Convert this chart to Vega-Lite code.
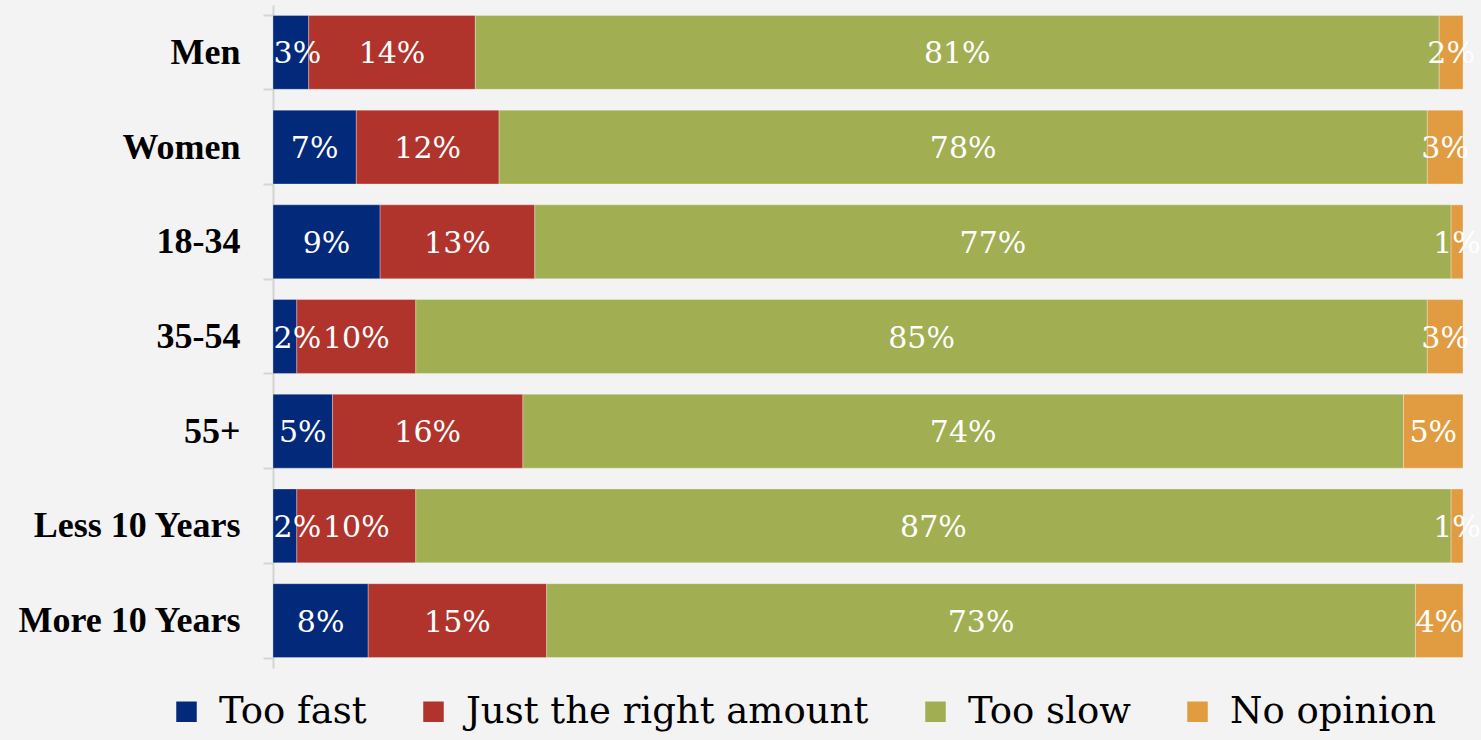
{
  "$schema": "https://vega.github.io/schema/vega-lite/v6.json",
  "autosize": "none",
  "width": 1190,
  "height": 663,
  "padding": {"left": 273, "top": 5, "right": 18, "bottom": 72},
  "background": "#f3f3f3",
  "config": {"view": {"stroke": null}},
  "data": {"values": [
    {"group": "Men", "answer": "Too fast", "pct": 3},
    {"group": "Men", "answer": "Just the right amount", "pct": 14},
    {"group": "Men", "answer": "Too slow", "pct": 81},
    {"group": "Men", "answer": "No opinion", "pct": 2},
    {"group": "Women", "answer": "Too fast", "pct": 7},
    {"group": "Women", "answer": "Just the right amount", "pct": 12},
    {"group": "Women", "answer": "Too slow", "pct": 78},
    {"group": "Women", "answer": "No opinion", "pct": 3},
    {"group": "18-34", "answer": "Too fast", "pct": 9},
    {"group": "18-34", "answer": "Just the right amount", "pct": 13},
    {"group": "18-34", "answer": "Too slow", "pct": 77},
    {"group": "18-34", "answer": "No opinion", "pct": 1},
    {"group": "35-54", "answer": "Too fast", "pct": 2},
    {"group": "35-54", "answer": "Just the right amount", "pct": 10},
    {"group": "35-54", "answer": "Too slow", "pct": 85},
    {"group": "35-54", "answer": "No opinion", "pct": 3},
    {"group": "55+", "answer": "Too fast", "pct": 5},
    {"group": "55+", "answer": "Just the right amount", "pct": 16},
    {"group": "55+", "answer": "Too slow", "pct": 74},
    {"group": "55+", "answer": "No opinion", "pct": 5},
    {"group": "Less 10 Years", "answer": "Too fast", "pct": 2},
    {"group": "Less 10 Years", "answer": "Just the right amount", "pct": 10},
    {"group": "Less 10 Years", "answer": "Too slow", "pct": 87},
    {"group": "Less 10 Years", "answer": "No opinion", "pct": 1},
    {"group": "More 10 Years", "answer": "Too fast", "pct": 8},
    {"group": "More 10 Years", "answer": "Just the right amount", "pct": 15},
    {"group": "More 10 Years", "answer": "Too slow", "pct": 73},
    {"group": "More 10 Years", "answer": "No opinion", "pct": 4}
  ]},
  "transform": [
    {"calculate": "indexof(['Too fast','Just the right amount','Too slow','No opinion'], datum.answer)", "as": "ord"},
    {"stack": "pct", "groupby": ["group"], "sort": [{"field": "ord", "order": "ascending"}], "as": ["x0", "x1"]},
    {"calculate": "max((datum.x0 + datum.x1) / 2, 2.05)", "as": "xm"},
    {"calculate": "datum.pct + '%'", "as": "label"}
  ],
  "encoding": {
    "y": {
      "field": "group",
      "type": "nominal",
      "sort": ["Men", "Women", "18-34", "35-54", "55+", "Less 10 Years", "More 10 Years"],
      "scale": {"paddingInner": 0.22, "paddingOuter": 0.11},
      "axis": {
        "title": null,
        "labelFont": "Liberation Serif",
        "labelFontWeight": "bold",
        "labelFontSize": 36,
        "labelColor": "#000000",
        "labelLimit": 0,
        "labelPadding": 23,
        "domainColor": "#d4d4d4",
        "domainWidth": 2,
        "tickColor": "#d4d4d4",
        "tickWidth": 2,
        "tickSize": 10,
        "tickBand": "extent"
      }
    }
  },
  "layer": [
    {
      "mark": {"type": "bar", "stroke": "#ffffff", "strokeWidth": 0.6, "strokeOpacity": 0.5},
      "encoding": {
        "x": {"field": "x0", "type": "quantitative", "scale": {"domain": [0, 100], "nice": false}, "axis": null},
        "x2": {"field": "x1"},
        "color": {
          "field": "answer",
          "type": "nominal",
          "scale": {
            "domain": ["Too fast", "Just the right amount", "Too slow", "No opinion"],
            "range": ["#02297A", "#B1342C", "#A1AE52", "#E19C41"]
          },
          "legend": {
            "title": null,
            "orient": "none",
            "direction": "horizontal",
            "columns": 4,
            "legendX": -105,
            "legendY": 688,
            "symbolType": "square",
            "symbolSize": 420,
            "symbolStrokeWidth": 0,
            "labelFont": "DejaVu Serif",
            "labelFontSize": 37,
            "labelColor": "#000000",
            "labelOffset": 14,
            "labelLimit": 0,
            "columnPadding": 48
          }
        }
      }
    },
    {
      "mark": {"type": "text", "font": "DejaVu Serif", "fontSize": 30, "color": "#ffffff", "align": "center", "baseline": "middle", "dy": 2},
      "encoding": {
        "x": {"field": "xm", "type": "quantitative"},
        "text": {"field": "label"}
      }
    }
  ]
}
